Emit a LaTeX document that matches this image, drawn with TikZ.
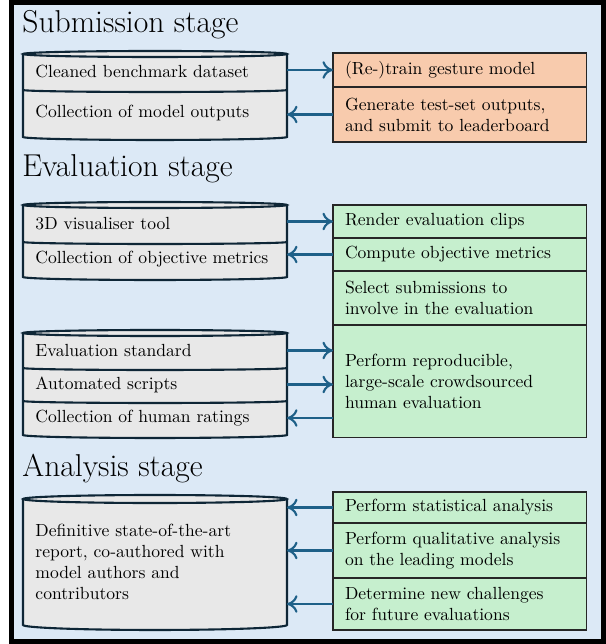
\documentclass[tikz,border=0pt]{standalone}
\usepackage{xcolor}
\usepackage{tikz}
\usetikzlibrary{arrows.meta, positioning}

\definecolor{bgblue}{RGB}{220,233,246}
\definecolor{rowgreen}{RGB}{198,239,206}
\definecolor{roworange}{RGB}{248,203,173}
\definecolor{cylgray}{RGB}{232,232,232}
\definecolor{cylline}{RGB}{14,38,54}
\definecolor{arrowblue}{RGB}{30,96,136}

\begin{document}
\begin{tikzpicture}%
                    [x=0.02cm, y=-0.02cm,
                    title/.style={anchor=base west, inner sep=0pt, font=\fontsize{18}{22}\selectfont},
                    task/.style={draw=black!85, line width=0.6pt, anchor=north west, outer sep=0pt,
                                 minimum width=5.08cm, text width=4.6cm, inner xsep=0.24cm, inner ysep=2pt, align=left},
                    taskgreen/.style={task, fill=rowgreen},
                    taskorange/.style={task, fill=roworange},
                    layer/.style={fill=cylgray, anchor=north west, outer sep=0pt,
                                  minimum width=5.28cm, text width=4.78cm, inner xsep=0.25cm, inner ysep=2pt, align=left},
                    cyl/.style={draw=cylline, line width=1.2pt},
                    flow/.style={draw=arrowblue, line width=1.2pt, -{To[length=6pt,width=10pt]}}]
                %% Frame and background
                \useasboundingbox (0,0) rectangle (605,644);
                \draw[line width=0.1cm, fill=bgblue] (11.5,2.5) rectangle (603,641.5);
                %%
                %% Submission stage
                %%
                \node[title] (subtitle) at (22,33) {Submission stage};
                \node[layer, minimum height=0.72cm] (dat1) at (23,54) {Cleaned benchmark dataset};
                \node[layer, minimum height=0.94cm, below=0pt of dat1] (dat2) {Collection of model outputs};
                \fill[cylgray] (dat2.south west) arc[start angle=180, end angle=360, x radius=2.64cm, y radius=0.06cm] -- cycle;
                \draw[cyl] (dat1.north west) -- (dat2.south west) arc[start angle=180, end angle=360, x radius=2.64cm, y radius=0.06cm] -- (dat1.north east);
                \draw[cyl, fill=cylgray] (dat1.north) ellipse[x radius=2.64cm, y radius=0.06cm];
                \draw[cyl] (dat1.south west) arc[start angle=180, end angle=360, x radius=2.64cm, y radius=0.04cm];

                \node[taskorange, minimum height=0.68cm] (sub1) at (333,53) {(Re-)train gesture model};
                \node[taskorange, minimum height=1.10cm, below=0pt of sub1] (sub2) {Generate test-set outputs,\\ and submit to leaderboard};

                \draw[flow] (dat1.east |- sub1.west) -- (sub1.west);
                \draw[flow] (sub2.west) -- (sub2.west -| dat2.east);
                %%
                %% Evaluation stage
                %%
                \node[title] (evatitle) at (22,177) {Evaluation stage};
                \node[layer, minimum height=0.74cm] (vis1) at (23,205) {3D visualiser tool};
                \node[layer, minimum height=0.70cm, below=0pt of vis1] (vis2) {Collection of objective metrics};
                \fill[cylgray] (vis2.south west) arc[start angle=180, end angle=360, x radius=2.64cm, y radius=0.06cm] -- cycle;
                \draw[cyl] (vis1.north west) -- (vis2.south west) arc[start angle=180, end angle=360, x radius=2.64cm, y radius=0.06cm] -- (vis1.north east);
                \draw[cyl, fill=cylgray] (vis1.north) ellipse[x radius=2.64cm, y radius=0.06cm];
                \draw[cyl] (vis1.south west) arc[start angle=180, end angle=360, x radius=2.64cm, y radius=0.04cm];

                \node[layer, minimum height=0.70cm] (std1) at (23,333) {Evaluation standard};
                \node[layer, minimum height=0.66cm, below=0pt of std1] (std2) {Automated scripts};
                \node[layer, minimum height=0.68cm, below=0pt of std2] (std3) {Collection of human ratings};
                \fill[cylgray] (std3.south west) arc[start angle=180, end angle=360, x radius=2.64cm, y radius=0.06cm] -- cycle;
                \draw[cyl] (std1.north west) -- (std3.south west) arc[start angle=180, end angle=360, x radius=2.64cm, y radius=0.06cm] -- (std1.north east);
                \draw[cyl, fill=cylgray] (std1.north) ellipse[x radius=2.64cm, y radius=0.06cm];
                \draw[cyl] (std1.south west) arc[start angle=180, end angle=360, x radius=2.64cm, y radius=0.04cm];
                \draw[cyl] (std2.south west) arc[start angle=180, end angle=360, x radius=2.64cm, y radius=0.04cm];

                \node[taskgreen, minimum height=0.66cm] (eva1) at (333,205) {Render evaluation clips};
                \node[taskgreen, minimum height=0.66cm, below=0pt of eva1] (eva2) {Compute objective metrics};
                \node[taskgreen, minimum height=1.08cm, below=0pt of eva2] (eva3) {Select submissions to\\ involve in the evaluation};
                \node[taskgreen, minimum height=2.26cm, below=0pt of eva3] (eva4) {Perform reproducible,\\ large-scale crowdsourced\\ human evaluation};

                \draw[flow] (vis1.east |- eva1.west) -- (eva1.west);
                \draw[flow] (eva2.west) -- (eva2.west -| vis2.east);
                \draw[flow] (std1.east) -- (std1.east -| eva4.west);
                \draw[flow] (std2.east) -- (std2.east -| eva4.west);
                \draw[flow] (std3.east -| eva4.west) -- (std3.east);
                %%
                %% Analysis stage
                %%
                \node[title] (anatitle) at (22,476) {Analysis stage};
                \node[layer, minimum height=2.52cm] (rep) at (23,499) {Definitive state-of-the-art\\ report, co-authored with\\ model authors and\\ contributors};
                \fill[cylgray] (rep.south west) arc[start angle=180, end angle=360, x radius=2.64cm, y radius=0.1cm] -- cycle;
                \draw[cyl] (rep.north west) -- (rep.south west) arc[start angle=180, end angle=360, x radius=2.64cm, y radius=0.1cm] -- (rep.north east);
                \draw[cyl, fill=cylgray] (rep.north) ellipse[x radius=2.64cm, y radius=0.08cm];

                \node[taskgreen, minimum height=0.62cm] (ana1) at (333,492) {Perform statistical analysis};
                \node[taskgreen, minimum height=1.10cm, below=0pt of ana1] (ana2) {Perform qualitative analysis\\ on the leading models};
                \node[taskgreen, minimum height=1.04cm, below=0pt of ana2] (ana3) {Determine new challenges\\ for future evaluations};

                \draw[flow] (ana1.west) -- (ana1.west -| rep.east);
                \draw[flow] (ana2.west) -- (ana2.west -| rep.east);
                \draw[flow] (ana3.west) -- (ana3.west -| rep.east);
                \end{tikzpicture}
\end{document}
